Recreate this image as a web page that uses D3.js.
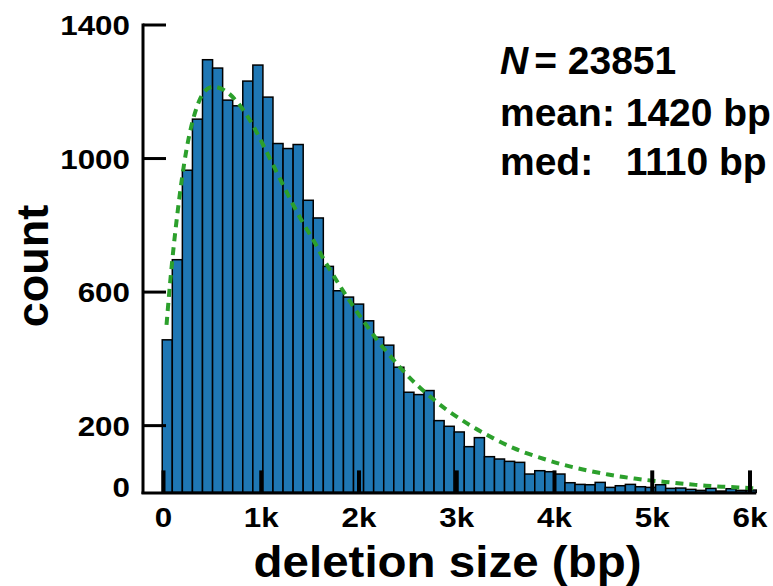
<!DOCTYPE html>
<html>
<head>
<meta charset="utf-8">
<script src="https://cdn.jsdelivr.net/npm/d3@7"></script>
<style>
  html, body { margin: 0; padding: 0; background: #fff; }
  svg { display: block; font-family: "Liberation Sans", Arial, Helvetica, sans-serif; font-weight: bold; }
</style>
</head>
<body>
<svg id="chart" width="773" height="586"></svg>
<script>
// ---- data ----
const binStart = -13;          // bp, left edge of first bin
const binWidth = 103;          // bp per bin
const counts = [457,697,965,1118,1296,1271,1175,1158,1232,1280,1184,1045,1030,1042,875,822,
                677,604,585,564,514,465,441,375,300,293,305,215,198,181,137,164,
                107,100,93,90,55,65,62,55,29,24,23,30,15,20,24,17,15,23,12,13,9,6,12,4,11,6,7];
const fitX = [31,89,191,276,378,480,634,753,889,1009,1196,1400,1554,1622,1714,1802,1894,1980,2082,2177,
              2279,2389,2497,2617,2747,2872,3008,3155,3291,3438,3581,3734,3905,4058,4222,4382,4552,4705,
              4876,5039,5216,5380,5551,5711,5881,6041];
const fitY = [502,707,957,1097,1192,1222,1207,1172,1116,1047,937,817,748,705,662,619,579,539,499,459,
              422,385,349,315,282,252,225,197,175,152,132,115,99,85,73,63,53,46,39,34,29,24,20,17,15,12];
const xTicks = [0,1000,2000,3000,4000,5000,6000];
const xTickLabels = ["0","1k","2k","3k","4k","5k","6k"];
const yTicks = [0,200,600,1000,1400];
const yTickLabels = ["0","200","600","1000","1400"];
const statLines = [
  {label: "N", value: "= 23851"},
  {label: "mean: 1420 bp"},
  {label: "med:   1110 bp"}
];
const xTitle = "deletion size (bp)";
const yTitle = "count";

// ---- scales ----
const svg = d3.select("#chart");
const x = d3.scaleLinear().domain([0, 6000]).range([163.5, 750]);
const y = d3.scaleLinear().domain([0, 1400]).range([492.4, 25]);

const bins = counts.map((c, i) => ({x0: binStart + i * binWidth, x1: binStart + (i + 1) * binWidth, c}));

// bars
svg.append("g").selectAll("rect").data(bins).join("rect")
  .attr("x", d => x(d.x0))
  .attr("width", d => x(d.x1) - x(d.x0))
  .attr("y", d => y(d.c))
  .attr("height", d => y(0) - y(d.c))
  .attr("fill", "#1f77b4")
  .attr("stroke", "#000")
  .attr("stroke-width", 1.5);

// fitted curve
const line = d3.line().x(d => x(d[0])).y(d => y(d[1])).curve(d3.curveBasis);
svg.append("path")
  .attr("d", line(fitX.map((v, i) => [v, fitY[i]])))
  .attr("fill", "none")
  .attr("stroke", "#2ca02c")
  .attr("stroke-width", 4)
  .attr("stroke-dasharray", "8,6");

// axes spines
const xAxisLeft = 143;
svg.append("line")
  .attr("x1", xAxisLeft).attr("x2", xAxisLeft)
  .attr("y1", y(1400) - 1.5).attr("y2", y(0) + 1.5)
  .attr("stroke", "#000").attr("stroke-width", 3);
svg.append("line")
  .attr("x1", xAxisLeft - 1.5).attr("x2", x(binStart + counts.length * binWidth))
  .attr("y1", y(0) + 0.5).attr("y2", y(0) + 0.5)
  .attr("stroke", "#000").attr("stroke-width", 3);

// y ticks (inward)
svg.append("g").selectAll("line").data(yTicks.filter(v => v > 0)).join("line")
  .attr("x1", xAxisLeft).attr("x2", xAxisLeft + 23)
  .attr("y1", d => y(d)).attr("y2", d => y(d))
  .attr("stroke", "#000").attr("stroke-width", 3);

// x ticks (inward)
svg.append("g").selectAll("line").data(xTicks).join("line")
  .attr("x1", d => x(d)).attr("x2", d => x(d))
  .attr("y1", y(0)).attr("y2", y(0) - 22)
  .attr("stroke", "#000").attr("stroke-width", 4);

// y tick labels
svg.append("g").selectAll("text").data(yTicks).join("text")
  .attr("transform", (d) => `translate(130,${y(d) + 10 - (d === 0 ? 5 : 0)}) scale(1.12,1)`)
  .attr("text-anchor", "end")
  .attr("font-size", 28)
  .text((d, i) => yTickLabels[i]);

// x tick labels
svg.append("g").selectAll("text").data(xTicks).join("text")
  .attr("transform", d => `translate(${x(d)},527) scale(1.12,1)`)
  .attr("text-anchor", "middle")
  .attr("font-size", 28)
  .text((d, i) => xTickLabels[i]);

// axis titles
svg.append("text")
  .attr("x", 447.5).attr("y", 577)
  .attr("text-anchor", "middle")
  .attr("font-size", 45)
  .attr("textLength", 388).attr("lengthAdjust", "spacingAndGlyphs")
  .text(xTitle);
svg.append("text")
  .attr("transform", "translate(48,266) rotate(-90)")
  .attr("text-anchor", "middle")
  .attr("font-size", 45)
  .text(yTitle);

// stats annotation
const statBaselines = [74, 126, 175];
const st = svg.append("g").attr("font-size", 39).style("white-space", "pre");
statLines.forEach((s, i) => {
  const t = st.append("text").attr("x", 500).attr("y", statBaselines[i]).attr("xml:space", "preserve");
  if (s.value) {
    t.append("tspan").attr("font-style", "italic").text(s.label);
    t.append("tspan").attr("dx", 6).text(s.value);
  } else {
    t.text(s.label);
  }
});
</script>
</body>
</html>
